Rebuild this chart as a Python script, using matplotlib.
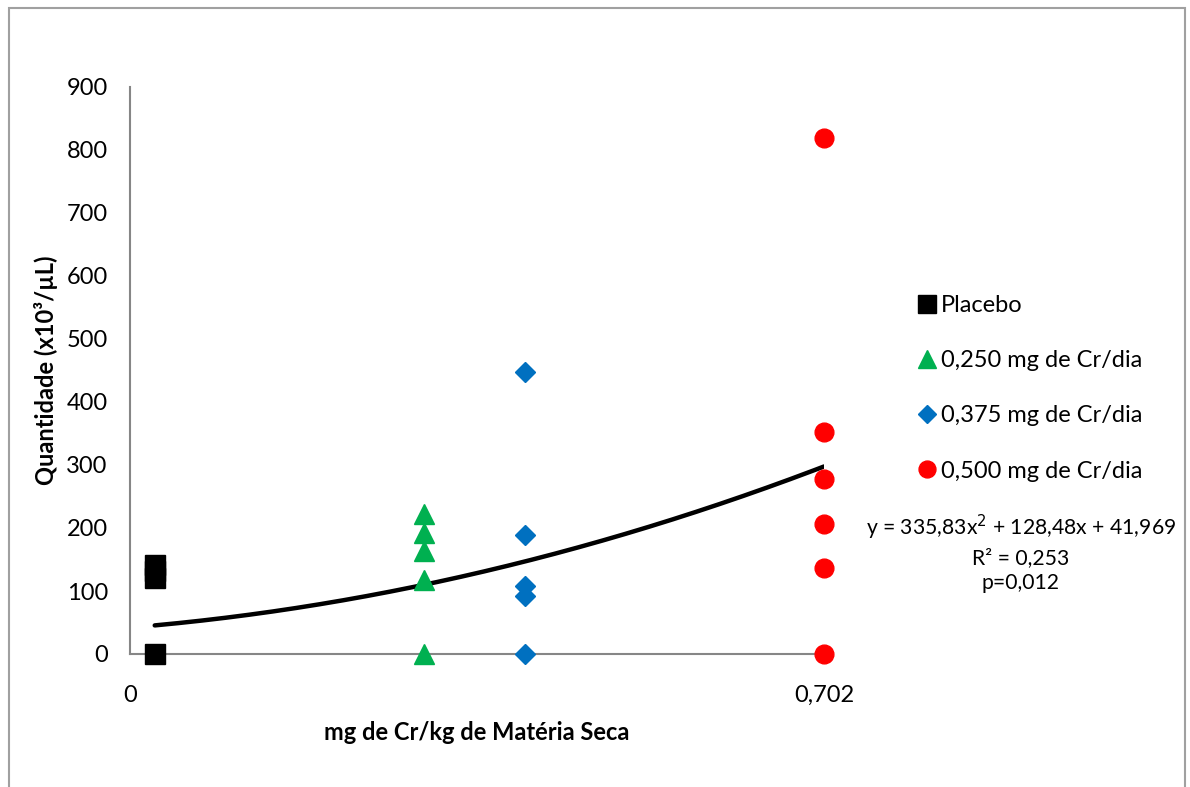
import numpy as np
from matplotlib import pyplot as plt
from matplotlib.patches import Rectangle

# dados por grupo (x = mg de Cr/kg de MS, y = quantidade x10^3/uL)
x_placebo = 0.025
y_placebo = [0, 121, 132, 142]
x_250 = 0.297
y_250 = [222, 192, 163, 117, 0]
x_375 = 0.400
y_375 = [448, 189, 108, 92, 0]
x_500 = 0.702
y_500 = [819, 352, 278, 206, 136, 0]

# linha de tendência polinomial (2ª ordem)
coef = [335.83, 128.48, 41.969]
r2_txt = 'R² = 0,253'
p_txt = 'p=0,012'

x_ticks = [0, 0.702]
x_ticks_labels = ['0', '0,702']
y_ticks = np.arange(0, 901, 100)

plt.rcParams['font.family'] = ['Lato', 'DejaVu Sans']

fig = plt.figure(figsize=(11.9, 7.87), dpi=100)
ax = fig.add_axes([130/1190, 1-654/787, 694/1190, 567/787])

ax.plot([x_placebo]*len(y_placebo), y_placebo, linestyle='none', marker='s',
        color='black', markersize=14, clip_on=False, zorder=4, label='Placebo')
ax.plot([x_250]*len(y_250), y_250, linestyle='none', marker='^',
        color='#00B050', markersize=14, clip_on=False, zorder=4, label='0,250 mg de Cr/dia')
ax.plot([x_375]*len(y_375), y_375, linestyle='none', marker='D',
        color='#0070C0', markersize=10, clip_on=False, zorder=4, label='0,375 mg de Cr/dia')
ax.plot([x_500]*len(y_500), y_500, linestyle='none', marker='o',
        color='#FF0000', markersize=13.5, clip_on=False, zorder=4, label='0,500 mg de Cr/dia')

xt = np.linspace(x_placebo, x_500, 200)
ax.plot(xt, np.polyval(coef, xt), color='black', linewidth=3.2, zorder=3,
        solid_capstyle='round')

ax.set_xlim(0, 0.702)
ax.set_ylim(0, 900)
ax.set_xticks(x_ticks, x_ticks_labels)
ax.set_yticks(y_ticks)
ax.tick_params(axis='both', length=0, labelsize=17)
ax.tick_params(axis='x', pad=22)
ax.tick_params(axis='y', pad=16)
for s in ['top', 'right']:
    ax.spines[s].set_visible(False)
for s in ['left', 'bottom']:
    ax.spines[s].set_color('#868686')
    ax.spines[s].set_linewidth(1.5)

ax.set_xlabel('mg de Cr/kg de Matéria Seca', fontsize=17, fontweight='bold', labelpad=11)
ax.set_ylabel('Quantidade (x10³/µL)', fontsize=17, fontweight='bold', labelpad=6)

ax.legend(loc='upper left', bbox_to_anchor=(908/1190, 1-283/787), bbox_transform=fig.transFigure,
          frameon=False, fontsize=17, handlelength=0.6, handletextpad=0.3,
          labelspacing=1.45, markerscale=0.9, borderpad=0)

eq = 'y = 335,83x$^2$ + 128,48x + 41,969\n' + r2_txt + '\n' + p_txt
fig.text(1021/1190, 1-553/787, eq, ha='center', va='center', fontsize=15.2,
         linespacing=1.35)

# moldura externa
fig.patches.append(Rectangle((9/1190, -0.02), 1176/1190, 1-8/787+0.02, transform=fig.transFigure,
                             fill=False, edgecolor='#A0A0A0', linewidth=1.5))

plt.savefig('out.png', dpi=100)
